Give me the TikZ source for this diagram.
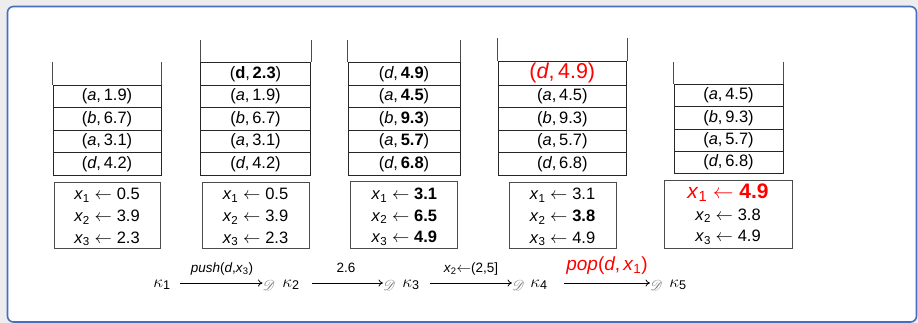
\documentclass[tikz,border=0pt]{standalone}
\usepackage{amsmath}
\usepackage{mathrsfs}
\usepackage{fontspec}
\setmainfont{Liberation Sans}
\usetikzlibrary{arrows.meta}
\definecolor{frameblue}{RGB}{72,110,190}
\newcommand\pair[2]{(\textit{#1},\,#2)}
\newcommand\xv[1]{\textit{x}$_{\text{#1}}$}
\newcommand\asg[2]{\xv{#1}$\;\leftarrow\;$#2}
\begin{document}
\begin{tikzpicture}[x=1pt,y=-1pt,
  cell/.style={draw=black!85, line width=0.7pt, inner sep=0pt, minimum height=22.5pt, font=\fontsize{16.5}{18}\selectfont},
  regbox/.style={draw=black!70, line width=1pt, inner sep=0pt},
  regtxt/.style={anchor=base, inner sep=0pt, font=\fontsize{16.5}{18}\selectfont},
  kap/.style={anchor=base, inner sep=0pt, font=\fontsize{18}{20}\selectfont},
  lab/.style={anchor=base, inner sep=0pt, font=\fontsize{13.5}{15}\selectfont},
  dsub/.style={anchor=base west, inner sep=0pt, text=black!55, font=\fontsize{14}{15}\selectfont},
  arr/.style={-{To[length=4.5pt,width=7pt]}, line width=0.75pt},
  openline/.style={draw=black!70, line width=0.7pt}]
\useasboundingbox (0,0) rectangle (918,323);
\fill[black!7] (0,0) rectangle (918,323);
\draw[frameblue, line width=1.6pt, fill=white, rounded corners=6pt] (7.5,6.5) rectangle (916.5,322);

% ---------- stack 1
\node[cell, minimum width=108pt] (s1a) at (107,96.25) {\pair{a}{1.9}};
\node[cell, minimum width=108pt] (s1b) at (107,118.75) {\pair{b}{6.7}};
\node[cell, minimum width=108pt] (s1c) at (107,141.25) {\pair{a}{3.1}};
\node[cell, minimum width=108pt] (s1d) at (107,163.75) {\pair{d}{4.2}};
\draw[openline] (s1a.north west) -- ++(0,-22.5);
\draw[openline] (s1a.north east) -- ++(0,-22.5);

% ---------- stack 2
\node[cell, minimum width=110pt] (s2t) at (255.5,73.75) {(\textbf{d},\,\textbf{2.3})};
\node[cell, minimum width=110pt] (s2a) at (255.5,96.25) {\pair{a}{1.9}};
\node[cell, minimum width=110pt] (s2b) at (255.5,118.75) {\pair{b}{6.7}};
\node[cell, minimum width=110pt] (s2c) at (255.5,141.25) {\pair{a}{3.1}};
\node[cell, minimum width=110pt] (s2d) at (255.5,163.75) {\pair{d}{4.2}};
\draw[openline] (s2t.north west) -- ++(0,-22);
\draw[openline] (s2t.north east) -- ++(0,-22);

% ---------- stack 3
\node[cell, minimum width=112pt] (s3t) at (404,73.75) {\pair{d}{\textbf{4.9}}};
\node[cell, minimum width=112pt] (s3a) at (404,96.25) {\pair{a}{\textbf{4.5}}};
\node[cell, minimum width=112pt] (s3b) at (404,118.75) {\pair{b}{\textbf{9.3}}};
\node[cell, minimum width=112pt] (s3c) at (404,141.25) {\pair{a}{\textbf{5.7}}};
\node[cell, minimum width=112pt] (s3d) at (404,163.75) {\pair{d}{\textbf{6.8}}};
\draw[openline] (s3t.north west) -- ++(0,-22);
\draw[openline] (s3t.north east) -- ++(0,-22);

% ---------- stack 4
\node[cell, minimum width=128.5pt, minimum height=23.5pt, text=red, font=\fontsize{21.5}{24}\selectfont] (s4t) at (562.3,73.25) {\pair{d}{4.9}};
\node[cell, minimum width=128.5pt] (s4a) at (562.3,96.25) {\pair{a}{4.5}};
\node[cell, minimum width=128.5pt] (s4b) at (562.3,118.75) {\pair{b}{9.3}};
\node[cell, minimum width=128.5pt] (s4c) at (562.3,141.25) {\pair{a}{5.7}};
\node[cell, minimum width=128.5pt] (s4d) at (562.3,163.75) {\pair{d}{6.8}};
\draw[openline] (s4t.north west) -- ++(0,-23.5);
\draw[openline] (s4t.north east) -- ++(0,-23.5);

% ---------- stack 5
\node[cell, minimum width=109pt, minimum height=22.25pt] (s5a) at (728.5,95.6) {\pair{a}{4.5}};
\node[cell, minimum width=109pt, minimum height=22.25pt] (s5b) at (728.5,117.9) {\pair{b}{9.3}};
\node[cell, minimum width=109pt, minimum height=22.25pt] (s5c) at (728.5,140.1) {\pair{a}{5.7}};
\node[cell, minimum width=109pt, minimum height=22.25pt] (s5d) at (728.5,162.4) {\pair{d}{6.8}};
\draw[openline] (s5a.north west) -- ++(0,-22);
\draw[openline] (s5a.north east) -- ++(0,-22);

% ---------- registers
\node[regbox, minimum width=106pt, minimum height=65pt] (r1) at (107,215.5) {};
\node[regtxt] (r1a) at (107,200) {\asg{1}{0.5}};
\node[regtxt] (r1b) at (107,221.7) {\asg{2}{3.9}};
\node[regtxt] (r1c) at (107,243.3) {\asg{3}{2.3}};

\node[regbox, minimum width=107pt, minimum height=65pt] (r2) at (255.5,215.5) {};
\node[regtxt] (r2a) at (255.5,200) {\asg{1}{0.5}};
\node[regtxt] (r2b) at (255.5,221.7) {\asg{2}{3.9}};
\node[regtxt] (r2c) at (255.5,243.3) {\asg{3}{2.3}};

\node[regbox, minimum width=106.7pt, minimum height=66.3pt] (r3) at (404.3,214.85) {};
\node[regtxt] (r3a) at (404.3,199.5) {\asg{1}{\textbf{3.1}}};
\node[regtxt] (r3b) at (404.3,221.2) {\asg{2}{\textbf{6.5}}};
\node[regtxt] (r3c) at (404.3,242.9) {\asg{3}{\textbf{4.9}}};

\node[regbox, minimum width=107pt, minimum height=65.3pt] (r4) at (562.5,215.35) {};
\node[regtxt] (r4a) at (562.5,200) {\asg{1}{3.1}};
\node[regtxt] (r4b) at (562.5,221.7) {\asg{2}{\textbf{3.8}}};
\node[regtxt] (r4c) at (562.5,243.3) {\asg{3}{4.9}};

\node[regbox, minimum width=128pt, minimum height=67.3pt] (r5) at (728,214.35) {};
\node[regtxt, text=red, font=\fontsize{21}{22}\selectfont] (r5a) at (728,198.5) {\asg{1}{\textbf{4.9}}};
\node[regtxt] (r5b) at (728,220) {\asg{2}{3.8}};
\node[regtxt] (r5c) at (728,241.7) {\asg{3}{4.9}};

% ---------- transitions
\node[kap] (k1) at (162,287) {$\kappa_{\text{1}}$};
\node[kap] (k2) at (291,287) {$\kappa_{\text{2}}$};
\node[kap] (k3) at (411,287) {$\kappa_{\text{3}}$};
\node[kap] (k4) at (539,287) {$\kappa_{\text{4}}$};
\node[kap] (k5) at (678,287) {$\kappa_{\text{5}}$};
\coordinate (axis) at (0,283);

\node[dsub] (d1) at (262.5,290) {$\mathscr{D}$};
\node[dsub] (d2) at (383,290) {$\mathscr{D}$};
\node[dsub] (d3) at (512,290) {$\mathscr{D}$};
\node[dsub] (d4) at (650,290) {$\mathscr{D}$};

\coordinate (a1s) at (180,283);
\coordinate (a2s) at (312,283);
\coordinate (a3s) at (430,283);
\coordinate (a4s) at (564,283);
\draw[arr] (a1s) -- (d1.west |- axis);
\draw[arr] (a2s) -- (d2.west |- axis);
\draw[arr] (a3s) -- (d3.west |- axis);
\draw[arr] (a4s) -- (d4.west |- axis);

\node[lab] (l1) at (222,272.5) {\textit{push}(\textit{d},\xv{3})};
\node[lab] (l2) at (346,272.5) {2.6};
\node[lab] (l3) at (471,272.5) {\xv{2}$\leftarrow$(2,5]};
\node[lab, text=red, font=\fontsize{19}{20}\selectfont] (l4) at (607,270.5) {\textit{pop}(\textit{d},\,\xv{1})};
\end{tikzpicture}
\end{document}
